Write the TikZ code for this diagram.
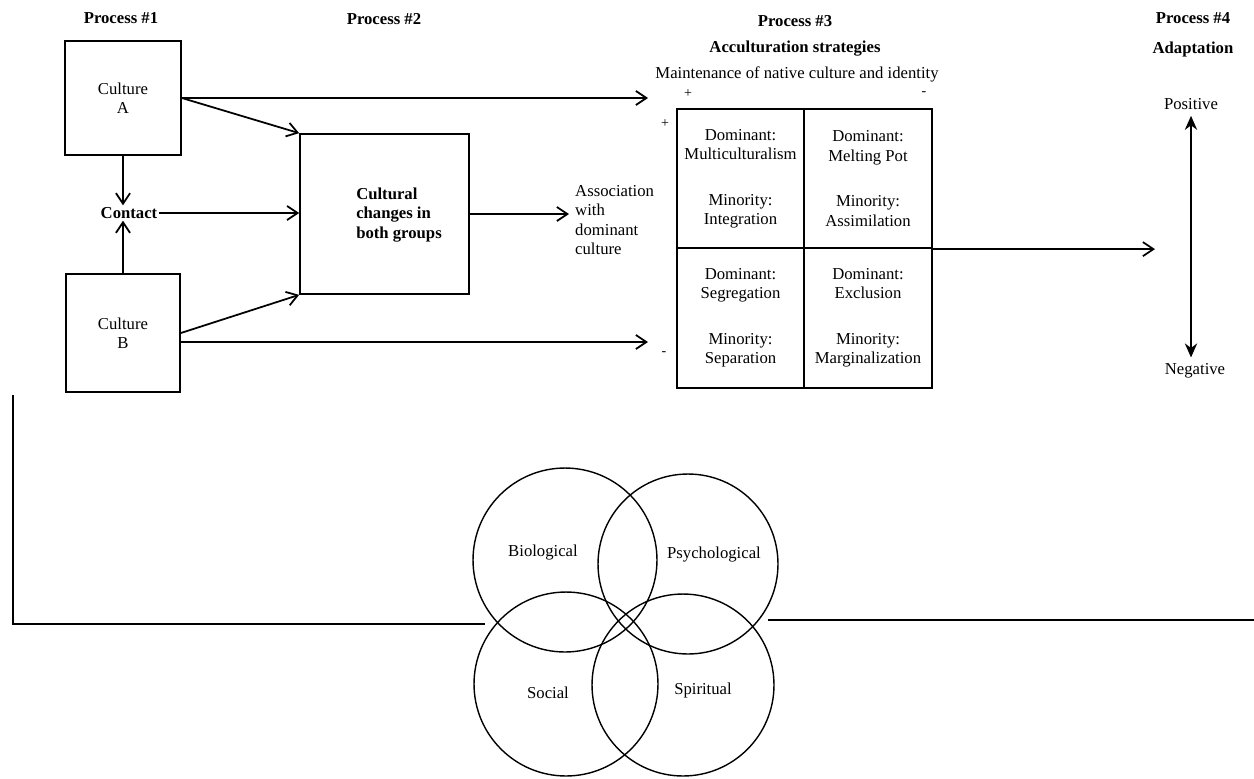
\documentclass[tikz,border=0pt]{standalone}
\usepackage{fontspec}
\setmainfont{Liberation Serif}
\usetikzlibrary{arrows.meta,positioning}

\tikzset{
  box/.style={draw,line width=1pt,inner sep=0pt},
  cell/.style={box,minimum width=2.55cm,minimum height=2.79cm,align=center},
  head/.style={font=\fontsize{9.5}{11}\selectfont\bfseries},
  sign/.style={font=\footnotesize,inner sep=1pt},
  flow/.style={-{Straight Barb[length=6pt,width=8pt]},line width=1pt},
  both/.style={{Stealth[length=8pt,width=7pt]}-{Stealth[length=8pt,width=7pt]},line width=1pt},
  ring/.style={draw,circle,inner sep=0pt,line width=0.8pt},
}

\begin{document}
\begin{tikzpicture}[x=0.02cm,y=-0.02cm,font=\fontsize{9.5}{11}\selectfont]
\useasboundingbox (0,0) rectangle (1254,778);

%% titres
   \node[head] (proc1) at (121,18) {Process \#1};
   \node[head] (proc2) at (384,19) {Process \#2};
   \node[head] (proc3) at (795,21) {Process \#3};
   \node[head] (strat) at (795,49) {Acculturation strategies};
   \node[head] (proc4) at (1193,18) {Process \#4};
   \node[head] (adapt) at (1193,49) {Adaptation};

%% process 1
   \node[box,minimum width=2.32cm,minimum height=2.28cm,align=center] (cultA) at (123,98) {Culture\\A};
   \node[box,minimum width=2.28cm,minimum height=2.36cm,align=center] (cultB) at (123,333) {Culture\\B};
   \node[head,inner sep=1pt] (contact) at (129,213) {Contact};

   \draw[flow] (cultA.south) -- (cultA.south |- contact.north);
   \draw[flow] (cultB.north) -- (cultB.north |- contact.south);

%% process 2
   \node[box,minimum width=3.38cm,minimum height=3.2cm] (change) at (384.5,214) {};
   \node[head,align=left] (changetxt) at (399,215) {Cultural\\changes in\\both groups};

   \draw[flow] (cultA.east) -- (change.north west);
   \draw[flow] (cultB.east) -- (change.south west);
   \draw[flow] (contact.east) -- (contact.east -| change.west);

   \node[align=left,anchor=west] (assoc) at (569,220) {Association\\with\\dominant\\culture};
   \draw[flow] (change.east) -- (change.east -| assoc.west);

%% process 3
   \node (maint) at (797,74) {Maintenance of native culture and identity};
   \node[sign] (plusTop) at (688,94) {+};
   \node[sign] (minusTop) at (924,94) {-};
   \node[sign] (plusLeft) at (665,124) {+};
   \node[sign] (minusLeft) at (664,354) {-};

   \node[cell] (integ) at (740.5,178.5) {Dominant:\\Multiculturalism\\[15pt]Minority:\\Integration};
   \node[cell] (assim) at (868,178.5) {Dominant:\\Melting Pot\\[15pt]Minority:\\Assimilation};
   \node[cell] (separ) at (740.5,318) {Dominant:\\Segregation\\[15pt]Minority:\\Separation};
   \node[cell] (margin) at (868,318) {Dominant:\\Exclusion\\[15pt]Minority:\\Marginalization};

   \coordinate (maintEnd) at (648,97);
   \coordinate (assocEnd) at (648,342);
   \draw[flow] (cultA.east) -- (cultA.east -| maintEnd);
   \draw[flow] (assocEnd -| cultB.east) -- (assocEnd);

%% process 4
   \node (pos) at (1191,104) {Positive};
   \node (neg) at (1195,371) {Negative};
   \draw[both] (pos.south) -- (neg.north -| pos.south);

   \coordinate (adaptIn) at (1155,248);
   \draw[flow] (assim.south east) -- (assim.south east -| adaptIn);

%% cercles
   \node[ring,minimum size=3.68cm] (bio) at (565,560) {};
   \node[ring,minimum size=3.6cm] (psych) at (688,564) {};
   \node[ring,minimum size=3.68cm] (social) at (566,684) {};
   \node[ring,minimum size=3.64cm] (spirit) at (683,685) {};

   \node (biotxt) at (543,553) {Biological};
   \node (psychtxt) at (714,555) {Psychological};
   \node (socialtxt) at (548,693) {Social};
   \node (spirittxt) at (703,690) {Spiritual};

%% cadre du bas
   \coordinate (frameTop) at (13,395);
   \coordinate (frameCorner) at (13,624);
   \coordinate (frameLeft) at (485,624);
   \coordinate (frameRight) at (768,620);
   \coordinate (frameEnd) at (1254,620);
   \draw[line width=1pt] (frameTop) -- (frameCorner) -- (frameLeft);
   \draw[line width=1pt] (frameRight) -- (frameEnd);

\end{tikzpicture}
\end{document}
